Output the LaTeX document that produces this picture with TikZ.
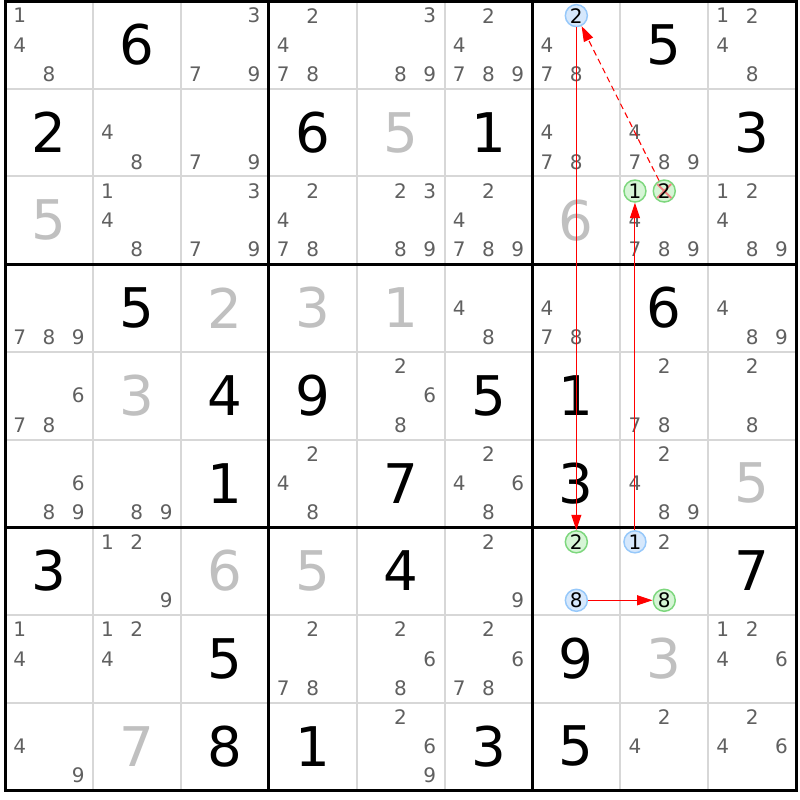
\documentclass[tikz,border=0pt]{standalone}
\usepackage{fontspec}
\setmainfont{DejaVu Sans}
\usetikzlibrary{arrows.meta}
\definecolor{candc}{RGB}{96,96,96}
\definecolor{solc}{RGB}{192,192,192}
\definecolor{gridc}{RGB}{215,215,215}
\definecolor{bluef}{RGB}{214,232,252}
\definecolor{blued}{RGB}{150,200,250}
\definecolor{greenf}{RGB}{214,245,214}
\definecolor{greend}{RGB}{125,215,125}
\definecolor{xcol}{RGB}{240,130,130}
\tikzset{
  givst/.style={inner sep=0pt, font=\fontsize{41}{41}\selectfont, text=black},
  solst/.style={inner sep=0pt, font=\fontsize{41}{41}\selectfont, text=solc},
  candst/.style={inner sep=0pt, font=\fontsize{15}{15}\selectfont, text=candc},
  hltxt/.style={inner sep=0pt, font=\fontsize{15}{15}\selectfont, text=black},
  hlb/.style={circle, inner sep=0pt, minimum size=16.5pt, fill=bluef, draw=blued, line width=1.1pt, font=\fontsize{15}{15}\selectfont, text=black},
  hlg/.style={circle, inner sep=0pt, minimum size=16.5pt, fill=greenf, draw=greend, line width=1.1pt, font=\fontsize{15}{15}\selectfont, text=black},
  thinline/.style={gridc, line width=1.5pt},
  thickline/.style={black, line width=2.25pt},
  arr/.style={red, line width=0.8pt, -{Triangle[length=11.5pt,width=7.5pt]}},
  dasharr/.style={arr, dash pattern=on 4.5pt off 3pt},
  xmark/.style={xcol, line width=1.4pt},
}
\newcommand\gv[3]{\node[givst] (g#1#2) at ({5+87.9*(#2-0.5)},{1+87.7*(#1-0.5)}) {#3};}
\newcommand\sv[3]{\node[solst] (g#1#2) at ({5+87.9*(#2-0.5)},{1+87.7*(#1-0.5)}) {#3};}
\newcommand\cd[3]{\node[candst] (k#1#2#3) at ({5+87.9*(#2-1)+29.3*mod(#3-1,3)+14.65},{1+87.7*(#1-1)+29.233*floor((#3-1)/3)+14.617}) {#3};}
\newcommand\cl[3]{\foreach \dd in {#3} {\cd{#1}{#2}{\dd}}}
\newcommand\hl[4]{\node[#4] (h#1#2#3) at ({5+87.9*(#2-1)+29.3*mod(#3-1,3)+14.65},{1+87.7*(#1-1)+29.233*floor((#3-1)/3)+14.617}) {#3};}
\begin{document}
\begin{tikzpicture}[x=0.75pt,y=-0.75pt]
\useasboundingbox[fill=white] (0,0) rectangle (800,800);
% grid
\foreach \i in {1,2,4,5,7,8} {
  \draw[thinline] ({5+87.9*\i},1) -- ({5+87.9*\i},790);
  \draw[thinline] (5,{1+87.7*\i}) -- (796,{1+87.7*\i});
}
\foreach \i in {0,3,6,9} {
  \draw[thickline, line cap=rect] ({5+87.9*\i},1) -- ({5+87.9*\i},790);
  \draw[thickline, line cap=rect] (5,{1+87.7*\i}) -- (796,{1+87.7*\i});
}
% row 1
\cl{1}{1}{1,4,8} \gv{1}{2}{6} \cl{1}{3}{3,7,9} \cl{1}{4}{2,4,7,8} \cl{1}{5}{3,8,9} \cl{1}{6}{2,4,7,8,9}
\cl{1}{7}{4,7,8} \hl{1}{7}{2}{hlb} \gv{1}{8}{5} \cl{1}{9}{1,2,4,8}
% row 2
\gv{2}{1}{2} \cl{2}{2}{4,8} \cl{2}{3}{7,9} \gv{2}{4}{6} \sv{2}{5}{5} \gv{2}{6}{1} \cl{2}{7}{4,7,8} \cl{2}{8}{4,7,8,9} \gv{2}{9}{3}
% row 3
\sv{3}{1}{5} \cl{3}{2}{1,4,8} \cl{3}{3}{3,7,9} \cl{3}{4}{2,4,7,8} \cl{3}{5}{2,3,8,9} \cl{3}{6}{2,4,7,8,9} \sv{3}{7}{6}
\cl{3}{8}{4,7,8,9} \hl{3}{8}{1}{hlg} \hl{3}{8}{2}{hlg, text opacity=0}
\draw[xmark] ([shift={(-7,-7)}]h382.center) -- ([shift={(7,7)}]h382.center);
\draw[xmark] ([shift={(-7,7)}]h382.center) -- ([shift={(7,-7)}]h382.center);
\node[hltxt] (t382) at (h382.center) {2};
\cl{3}{9}{1,2,4,8,9}
% row 4
\cl{4}{1}{7,8,9} \gv{4}{2}{5} \sv{4}{3}{2} \sv{4}{4}{3} \sv{4}{5}{1} \cl{4}{6}{4,8} \cl{4}{7}{4,7,8} \gv{4}{8}{6} \cl{4}{9}{4,8,9}
% row 5
\cl{5}{1}{6,7,8} \sv{5}{2}{3} \gv{5}{3}{4} \gv{5}{4}{9} \cl{5}{5}{2,6,8} \gv{5}{6}{5} \gv{5}{7}{1} \cl{5}{8}{2,7,8} \cl{5}{9}{2,8}
% row 6
\cl{6}{1}{6,8,9} \cl{6}{2}{8,9} \gv{6}{3}{1} \cl{6}{4}{2,4,8} \gv{6}{5}{7} \cl{6}{6}{2,4,6,8} \gv{6}{7}{3} \cl{6}{8}{2,4,8,9} \sv{6}{9}{5}
% row 7
\gv{7}{1}{3} \cl{7}{2}{1,2,9} \sv{7}{3}{6} \sv{7}{4}{5} \gv{7}{5}{4} \cl{7}{6}{2,9}
\hl{7}{7}{2}{hlg} \hl{7}{7}{8}{hlb}
\hl{7}{8}{1}{hlb} \cl{7}{8}{2} \hl{7}{8}{8}{hlg} \gv{7}{9}{7}
% row 8
\cl{8}{1}{1,4} \cl{8}{2}{1,2,4} \gv{8}{3}{5} \cl{8}{4}{2,7,8} \cl{8}{5}{2,6,8} \cl{8}{6}{2,6,7,8} \gv{8}{7}{9} \sv{8}{8}{3} \cl{8}{9}{1,2,4,6}
% row 9
\cl{9}{1}{4,9} \sv{9}{2}{7} \gv{9}{3}{8} \gv{9}{4}{1} \cl{9}{5}{2,6,9} \gv{9}{6}{3} \gv{9}{7}{5} \cl{9}{8}{2,4} \cl{9}{9}{2,4,6}
% arrows
\draw[arr] (h172) -- (h772);
\draw[arr] (h781) -- (h381);
\draw[arr] (h778) -- (h788);
\draw[dasharr] (h382) -- (h172);
\end{tikzpicture}
\end{document}
